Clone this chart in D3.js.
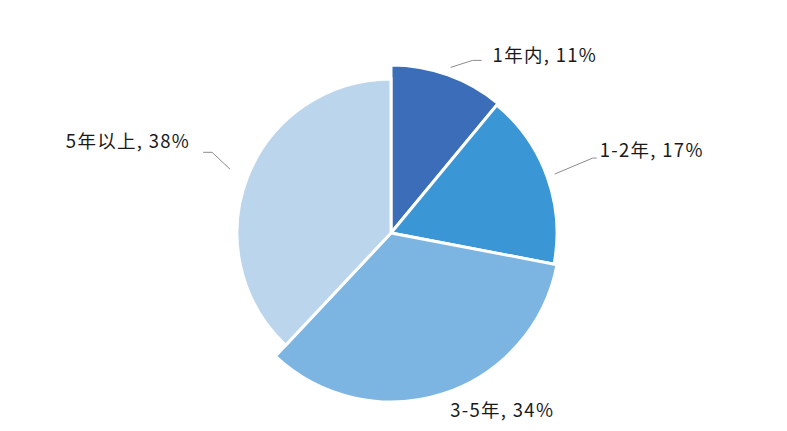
<!DOCTYPE html>
<html><head><meta charset="utf-8">
<script src="https://cdn.jsdelivr.net/npm/d3@7/dist/d3.min.js"></script>
<style>html,body{margin:0;padding:0;background:#fff;}svg{display:block;}</style>
</head><body>
<script>
const categories = ["1年内", "1-2年", "3-5年", "5年以上"];
const values = [11, 17, 34, 38];
const labels = ["1年内, 11%", "1-2年, 17%", "3-5年, 34%", "5年以上, 38%"];

const colors = ["#3B6DB9", "#3A96D4", "#7CB5E2", "#BBD5EC"];
const outerR = [168, 166, 169, 154];
const W = 787, H = 431, cx = 391, cy = 233;

const svg = d3.select("body").append("svg").attr("width", W).attr("height", H);
const g = svg.append("g").attr("transform", `translate(${cx},${cy})`);

const pie = d3.pie().sort(null).value(d => d)(values);

g.selectAll("path.slice").data(pie).join("path")
  .attr("class", "slice")
  .attr("d", (d, i) => d3.arc().innerRadius(0).outerRadius(outerR[i])(d))
  .attr("fill", (d, i) => colors[i])
  .attr("stroke", "#fff").attr("stroke-width", 3).attr("stroke-linejoin", "miter");

const font = "'Noto Sans CJK SC', 'Noto Sans', sans-serif";
pie.forEach((d, i) => {
  const a = (d.startAngle + d.endAngle) / 2;
  const gap = i === 3 ? 19 : 8;
  const r = outerR[i] + gap;
  const sx = Math.sin(a) * r, sy = -Math.cos(a) * r;
  let pts, tx, ty, anchor = "start";
  if (i === 0) { pts = [[sx, sy], [sx + 22, sy - 7], [sx + 31, sy - 7]]; tx = sx + 42; ty = sy - 5; }
  else if (i === 1) { pts = [[sx, sy], [sx + 38, sy - 16], [sx + 42, sy - 16]]; tx = sx + 45; ty = sy - 17; }
  else if (i === 2) { pts = null; tx = Math.sin(a) * outerR[i] + 7; ty = -Math.cos(a) * outerR[i] + 23; }
  else { pts = [[sx, sy], [sx - 18, sy - 17], [sx - 27, sy - 17]]; tx = sx - 40; ty = sy - 21; anchor = "end"; }
  if (pts) {
    g.append("polyline").attr("points", pts.map(p => p.join(",")).join(" "))
      .attr("fill", "none").attr("stroke", "#8c8c8c").attr("stroke-width", 1);
  }
  g.append("text").attr("x", tx).attr("y", ty).attr("text-anchor", anchor)
    .attr("font-family", font).attr("font-size", 18.5).attr("letter-spacing", "1.3px")
    .attr("fill", "#1a1a1a")
    .text(labels[i]);
});
</script>
</body></html>
